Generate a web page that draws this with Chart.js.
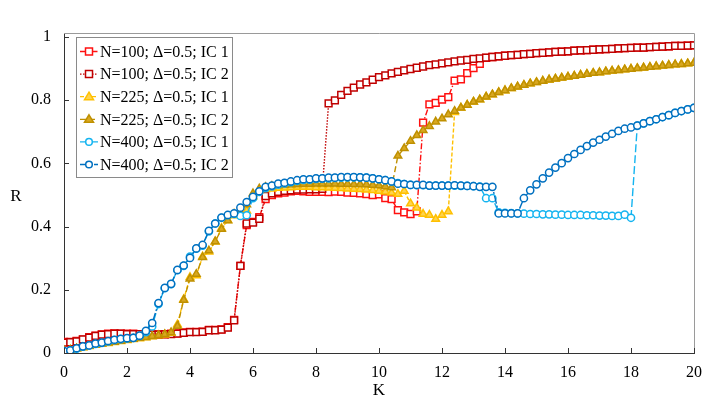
<!DOCTYPE html>
<html>
<head>
<meta charset="utf-8">
<script src="https://cdn.jsdelivr.net/npm/chart.js@4.4.1/dist/chart.umd.min.js"></script>
<style>
  html, body { margin: 0; padding: 0; background: #fff; }
  #wrap { width: 706px; height: 402px; }
</style>
</head>
<body>
<div id="wrap"><canvas id="kuramotoChart" width="706" height="402"></canvas></div>
<script>
// coupling strength K
const kValues = [
  0.0, 0.2, 0.4, 0.6, 0.8, 1.0, 1.2, 1.4, 1.6, 1.8,
  2.0, 2.2, 2.4, 2.6, 2.8, 3.0, 3.2, 3.4, 3.6, 3.8,
  4.0, 4.2, 4.4, 4.6, 4.8, 5.0, 5.2, 5.4, 5.6, 5.8,
  6.0, 6.2, 6.4, 6.6, 6.8, 7.0, 7.2, 7.4, 7.6, 7.8,
  8.0, 8.2, 8.4, 8.6, 8.8, 9.0, 9.2, 9.4, 9.6, 9.8,
  10.0, 10.2, 10.4, 10.6, 10.8, 11.0, 11.2, 11.4, 11.6, 11.8,
  12.0, 12.2, 12.4, 12.6, 12.8, 13.0, 13.2, 13.4, 13.6, 13.8,
  14.0, 14.2, 14.4, 14.6, 14.8, 15.0, 15.2, 15.4, 15.6, 15.8,
  16.0, 16.2, 16.4, 16.6, 16.8, 17.0, 17.2, 17.4, 17.6, 17.8,
  18.0, 18.2, 18.4, 18.6, 18.8, 19.0, 19.2, 19.4, 19.6, 19.8,
  20.0
];

// order parameter R, one array per run
const rN100IC1 = [
  0.035, 0.035, 0.038, 0.042, 0.050, 0.055, 0.059, 0.061, 0.062, 0.061,
  0.061, 0.061, 0.060, 0.059, 0.058, 0.059, 0.060, 0.061, 0.062, 0.065,
  0.067, 0.067, 0.068, 0.073, 0.073, 0.075, 0.082, 0.105, 0.276, 0.405,
  0.415, 0.430, 0.487, 0.500, 0.505, 0.508, 0.512, 0.513, 0.512, 0.510,
  0.510, 0.510, 0.509, 0.511, 0.510, 0.508, 0.507, 0.505, 0.503, 0.500,
  0.502, 0.490, 0.487, 0.452, 0.445, 0.440, 0.448, 0.729, 0.787, 0.792,
  0.802, 0.810, 0.862, 0.866, 0.886, 0.902, 0.915, 0.934, 0.937, 0.939,
  0.941, 0.943, 0.944, 0.946, 0.947, 0.949, 0.950, 0.952, 0.953, 0.954,
  0.955, 0.957, 0.958, 0.959, 0.960, 0.961, 0.962, 0.963, 0.964, 0.965,
  0.966, 0.967, 0.967, 0.968, 0.969, 0.970, 0.971, 0.972, 0.972, 0.973,
  0.974
];
const rN100IC2 = [
  0.033, 0.034, 0.037, 0.043, 0.049, 0.054, 0.058, 0.060, 0.061, 0.061,
  0.060, 0.060, 0.060, 0.059, 0.058, 0.058, 0.059, 0.060, 0.061, 0.064,
  0.066, 0.066, 0.067, 0.072, 0.072, 0.074, 0.080, 0.103, 0.276, 0.410,
  0.413, 0.425, 0.497, 0.505, 0.510, 0.513, 0.515, 0.517, 0.517, 0.518,
  0.518, 0.520, 0.790, 0.800, 0.817, 0.830, 0.840, 0.850, 0.857, 0.865,
  0.873, 0.879, 0.885, 0.890, 0.895, 0.899, 0.903, 0.907, 0.911, 0.914,
  0.917, 0.920, 0.923, 0.926, 0.928, 0.931, 0.933, 0.935, 0.937, 0.939,
  0.941, 0.943, 0.944, 0.946, 0.947, 0.949, 0.950, 0.952, 0.953, 0.954,
  0.955, 0.957, 0.958, 0.959, 0.960, 0.961, 0.962, 0.963, 0.964, 0.965,
  0.966, 0.967, 0.967, 0.968, 0.969, 0.970, 0.971, 0.972, 0.972, 0.973,
  0.974
];
const rN225IC1 = [
  0.006, 0.009, 0.013, 0.017, 0.021, 0.025, 0.028, 0.031, 0.034, 0.037,
  0.040, 0.043, 0.046, 0.049, 0.052, 0.055, 0.058, 0.063, 0.090, 0.170,
  0.240, 0.245, 0.305, 0.320, 0.352, 0.395, 0.420, 0.435, 0.440, 0.450,
  0.495, 0.515, 0.518, 0.520, 0.522, 0.523, 0.524, 0.525, 0.525, 0.525,
  0.524, 0.524, 0.523, 0.522, 0.521, 0.520, 0.519, 0.518, 0.517, 0.515,
  0.513, 0.510, 0.507, 0.503, 0.513, 0.473, 0.460, 0.440, 0.437, 0.424,
  0.437, 0.448, 0.762, 0.776, 0.785, 0.795, 0.802, 0.811, 0.818, 0.825,
  0.831, 0.838, 0.843, 0.848, 0.853, 0.857, 0.861, 0.865, 0.868, 0.871,
  0.874, 0.877, 0.880, 0.883, 0.886, 0.888, 0.891, 0.893, 0.895, 0.897,
  0.899, 0.901, 0.903, 0.905, 0.907, 0.909, 0.911, 0.913, 0.914, 0.916,
  0.918
];
const rN225IC2 = [
  0.008, 0.010, 0.014, 0.018, 0.022, 0.026, 0.029, 0.032, 0.035, 0.038,
  0.041, 0.044, 0.047, 0.050, 0.053, 0.056, 0.059, 0.065, 0.085, 0.168,
  0.235, 0.250, 0.303, 0.324, 0.353, 0.392, 0.419, 0.440, 0.445, 0.470,
  0.505, 0.520, 0.525, 0.528, 0.530, 0.532, 0.533, 0.534, 0.535, 0.535,
  0.536, 0.536, 0.536, 0.536, 0.535, 0.535, 0.534, 0.534, 0.533, 0.532,
  0.530, 0.527, 0.524, 0.624, 0.648, 0.671, 0.689, 0.705, 0.718, 0.732,
  0.742, 0.755, 0.766, 0.776, 0.785, 0.795, 0.802, 0.811, 0.818, 0.825,
  0.831, 0.838, 0.843, 0.848, 0.853, 0.857, 0.861, 0.865, 0.868, 0.871,
  0.874, 0.877, 0.880, 0.883, 0.886, 0.888, 0.891, 0.893, 0.895, 0.897,
  0.899, 0.901, 0.903, 0.905, 0.907, 0.909, 0.911, 0.913, 0.914, 0.916,
  0.918
];
const rN400IC1 = [
  0.005, 0.008, 0.014, 0.020, 0.024, 0.029, 0.032, 0.037, 0.041, 0.044,
  0.046, 0.048, 0.054, 0.066, 0.084, 0.155, 0.205, 0.218, 0.262, 0.276,
  0.305, 0.330, 0.340, 0.385, 0.410, 0.428, 0.436, 0.440, 0.434, 0.436,
  0.490, 0.510, 0.522, 0.527, 0.533, 0.537, 0.541, 0.545, 0.548, 0.549,
  0.551, 0.552, 0.553, 0.554, 0.555, 0.556, 0.556, 0.556, 0.555, 0.553,
  0.550, 0.547, 0.543, 0.538, 0.535, 0.532, 0.531, 0.531, 0.530, 0.530,
  0.530, 0.530, 0.530, 0.529, 0.529, 0.528, 0.527, 0.490, 0.490, 0.445,
  0.444, 0.443, 0.442, 0.441, 0.440, 0.440, 0.439, 0.439, 0.438, 0.438,
  0.437, 0.437, 0.437, 0.436, 0.436, 0.435, 0.435, 0.434, 0.434, 0.438,
  0.428, 0.720, 0.727, 0.734, 0.740, 0.747, 0.753, 0.760, 0.766, 0.771,
  0.776
];
const rN400IC2 = [
  0.006, 0.008, 0.015, 0.021, 0.024, 0.030, 0.033, 0.038, 0.042, 0.045,
  0.047, 0.048, 0.055, 0.070, 0.095, 0.158, 0.206, 0.219, 0.263, 0.277,
  0.301, 0.331, 0.342, 0.387, 0.410, 0.429, 0.437, 0.442, 0.460, 0.478,
  0.494, 0.512, 0.526, 0.530, 0.536, 0.539, 0.543, 0.547, 0.550, 0.550,
  0.553, 0.553, 0.555, 0.555, 0.557, 0.557, 0.557, 0.556, 0.555, 0.553,
  0.550, 0.547, 0.543, 0.536, 0.535, 0.532, 0.532, 0.532, 0.530, 0.530,
  0.530, 0.530, 0.531, 0.530, 0.529, 0.528, 0.526, 0.526, 0.526, 0.442,
  0.442, 0.442, 0.442, 0.490, 0.515, 0.534, 0.553, 0.571, 0.587, 0.601,
  0.617, 0.630, 0.643, 0.655, 0.666, 0.675, 0.685, 0.694, 0.703, 0.710,
  0.714, 0.720, 0.727, 0.734, 0.740, 0.747, 0.753, 0.760, 0.766, 0.771,
  0.776
];

const seriesLabels = [
  'N=100; \u0394=0.5; IC 1', 'N=100; \u0394=0.5; IC 2',
  'N=225; \u0394=0.5; IC 1', 'N=225; \u0394=0.5; IC 2',
  'N=400; \u0394=0.5; IC 1', 'N=400; \u0394=0.5; IC 2'
];
const xTicks = [0, 2, 4, 6, 8, 10, 12, 14, 16, 18, 20];
const yTicks = [0, 0.2, 0.4, 0.6, 0.8, 1];

const SERIF = '"Liberation Serif", "Times New Roman", serif';

function toPoints(values) {
  return values.map((v, i) => ({ x: kValues[i], y: v }));
}

function makeSet(label, values, color, fill, style, dash, order) {
  let r = 3.6;
  if (style === 'rect') r = 4.8;
  if (style === 'triangle') r = 4.4;
  return {
    label: label,
    data: toPoints(values),
    borderColor: color,
    backgroundColor: fill,
    borderWidth: 1.4,
    borderDash: dash,
    pointStyle: style,
    pointRadius: r,
    pointBorderWidth: 1.5,
    pointBorderColor: color,
    pointBackgroundColor: fill,
    tension: 0,
    fill: false,
    order: order
  };
}

// draws frame, inward ticks, axis titles and the boxed legend
const decorPlugin = {
  id: 'decor',
  afterDraw(chart) {
    const ctx = chart.ctx;
    const a = chart.chartArea;
    const xs = chart.scales.x, ys = chart.scales.y;
    ctx.save();
    // top + right border
    ctx.strokeStyle = '#9a9a9a';
    ctx.lineWidth = 1;
    ctx.beginPath();
    ctx.moveTo(a.left, a.top + 0.5);
    ctx.lineTo(a.right + 0.5, a.top + 0.5);
    ctx.lineTo(a.right + 0.5, a.bottom);
    ctx.stroke();
    // inward ticks
    ctx.strokeStyle = '#333';
    ctx.beginPath();
    xTicks.forEach(v => {
      const px = Math.round(xs.getPixelForValue(v)) + 0.5;
      ctx.moveTo(px, a.bottom);
      ctx.lineTo(px, a.bottom - 5);
    });
    yTicks.forEach(v => {
      const py = Math.round(ys.getPixelForValue(v)) + 0.5;
      ctx.moveTo(a.left, py);
      ctx.lineTo(a.left + 5, py);
    });
    ctx.stroke();
    // axis titles
    ctx.fillStyle = '#000';
    ctx.font = '17px ' + SERIF;
    ctx.textAlign = 'center';
    ctx.textBaseline = 'middle';
    ctx.fillText('R', 16, 197);
    ctx.fillText('K', (a.left + a.right) / 2, 391);

    // legend
    const bx = 76, by = 37, bw = 156, bh = 140;
    ctx.fillStyle = '#fff';
    ctx.fillRect(bx, by, bw, bh);
    ctx.strokeStyle = '#8a8a8a';
    ctx.strokeRect(bx + 0.5, by + 0.5, bw, bh);
    ctx.font = '16px ' + SERIF;
    ctx.textAlign = 'left';
    chart.data.datasets.forEach((ds, i) => {
      const cy = by + 14.5 + i * 22.6;
      ctx.strokeStyle = ds.borderColor;
      ctx.lineWidth = 1.3;
      ctx.setLineDash(ds.borderDash);
      ctx.beginPath();
      ctx.moveTo(80, cy);
      ctx.lineTo(98, cy);
      ctx.stroke();
      ctx.setLineDash([]);
      ctx.lineWidth = 1.5;
      ctx.fillStyle = ds.pointBackgroundColor;
      ctx.beginPath();
      if (ds.pointStyle === 'rect') {
        ctx.rect(85.5, cy - 3.5, 7, 7);
      } else if (ds.pointStyle === 'triangle') {
        ctx.moveTo(89, cy - 4.5);
        ctx.lineTo(93.5, cy + 3);
        ctx.lineTo(84.5, cy + 3);
        ctx.closePath();
      } else {
        ctx.arc(89, cy, 3.3, 0, Math.PI * 2);
      }
      ctx.fill();
      ctx.stroke();
      ctx.fillStyle = '#000';
      ctx.fillText(ds.label, 100, cy + 1);
    });
    ctx.restore();
  }
};

const ctx = document.getElementById('kuramotoChart').getContext('2d');
const kuramotoChart = new Chart(ctx, {
  type: 'line',
  data: {
    datasets: [
      makeSet(seriesLabels[0], rN100IC1, '#ff1010', '#ffffff', 'rect', [6, 2, 1.5, 2], 6),
      makeSet(seriesLabels[1], rN100IC2, '#c00000', '#ffffff', 'rect', [1.5, 1.5], 5),
      makeSet(seriesLabels[2], rN225IC1, '#ffc000', '#ffd34d', 'triangle', [4, 2], 4),
      makeSet(seriesLabels[3], rN225IC2, '#bf9000', '#d9a820', 'triangle', [6, 3], 3),
      makeSet(seriesLabels[4], rN400IC1, '#14b4f0', '#ffffff', 'circle', [8, 3], 2),
      makeSet(seriesLabels[5], rN400IC2, '#0070c0', '#ffffff', 'circle', [8, 2, 2, 2], 1)
    ]
  },
  options: {
    responsive: false,
    animation: false,
    devicePixelRatio: 1,
    layout: { padding: { left: 0, right: 12, top: 33, bottom: 0 } },
    plugins: {
      legend: { display: false },
      tooltip: { enabled: false }
    },
    scales: {
      x: {
        type: 'linear',
        min: 0,
        max: 20,
        afterBuildTicks: axis => { axis.ticks = xTicks.map(v => ({ value: v })); },
        afterFit: axis => { axis.height = 49; axis.paddingLeft = 0; axis.paddingRight = 0; },
        grid: { display: false, drawTicks: false },
        border: { display: true, color: '#333', width: 1 },
        ticks: { color: '#000', padding: 10, maxRotation: 0, font: { family: SERIF, size: 16 } }
      },
      y: {
        type: 'linear',
        min: 0,
        max: 1.013,
        afterBuildTicks: axis => { axis.ticks = yTicks.map(v => ({ value: v })); },
        afterFit: axis => { axis.width = 64; axis.paddingTop = 0; axis.paddingBottom = 0; },
        grid: { display: false, drawTicks: false },
        border: { display: true, color: '#333', width: 1 },
        ticks: {
          color: '#000',
          padding: 13,
          font: { family: SERIF, size: 16 },
          callback: v => String(v)
        }
      }
    }
  },
  plugins: [decorPlugin]
});
</script>
</body>
</html>
